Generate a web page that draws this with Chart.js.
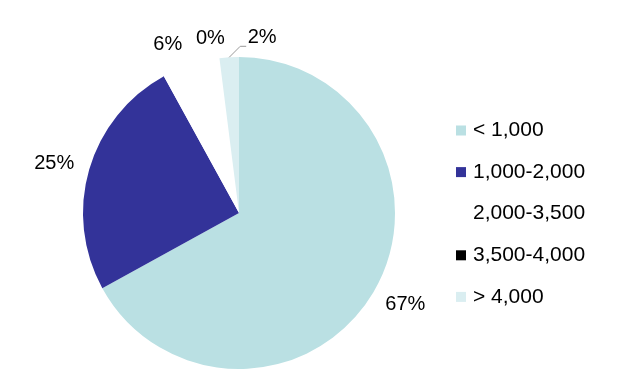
<!DOCTYPE html>
<html>
<head>
<meta charset="utf-8">
<script src="https://cdn.jsdelivr.net/npm/chart.js@4/dist/chart.umd.min.js"></script>
<style>
  html, body { margin: 0; padding: 0; background: #fff; }
  #wrap { width: 635px; height: 373px; }
</style>
</head>
<body>
<div id="wrap"><canvas id="pie" width="635" height="373"></canvas></div>
<script>
// values
const categories = ['< 1,000', '1,000-2,000', '2,000-3,500', '3,500-4,000', '> 4,000'];
const shares = [67, 25, 6, 0, 2];
const sliceColors = ['#bae0e3', '#333399', '#ffffff', '#000000', '#daeef1'];

// nudges for the percent labels, relative to the slice's outer mid point
const labelNudge = [[32, 12], [-35, -6], [-23, -20], [-9, -20], [33, -20]];

const LABEL_FONT = '20px "Liberation Sans", Arial, sans-serif';
const LEGEND_FONT = '21px "Liberation Sans", Arial, sans-serif';

const pctLabels = {
  id: 'pctLabels',
  afterDatasetsDraw(chart) {
    const ctx = chart.ctx;
    const meta = chart.getDatasetMeta(0);
    const total = shares.reduce((a, b) => a + b, 0);
    ctx.save();
    ctx.font = LABEL_FONT;
    ctx.fillStyle = '#000';
    ctx.textAlign = 'center';
    ctx.textBaseline = 'middle';
    meta.data.forEach((arc, i) => {
      const mid = (arc.startAngle + arc.endAngle) / 2;
      const px = arc.x + Math.cos(mid) * arc.outerRadius;
      const py = arc.y + Math.sin(mid) * arc.outerRadius;
      const txt = Math.round(shares[i] / total * 100) + '%';
      ctx.fillText(txt, px + labelNudge[i][0], py + labelNudge[i][1]);
      if (i === 4) {
        // leader line for the small slice
        ctx.strokeStyle = '#999';
        ctx.lineWidth = 1;
        ctx.beginPath();
        ctx.moveTo(px, py);
        ctx.lineTo(px + 11, py - 11);
        ctx.lineTo(px + 17, py - 11);
        ctx.stroke();
      }
    });
    ctx.restore();
  }
};

const sideLegend = {
  id: 'sideLegend',
  afterDraw(chart) {
    const ctx = chart.ctx;
    ctx.save();
    ctx.font = LEGEND_FONT;
    ctx.textBaseline = 'middle';
    ctx.textAlign = 'left';
    categories.forEach((name, i) => {
      const y = 130.5 + i * 41.6;
      ctx.fillStyle = sliceColors[i];
      ctx.fillRect(456, y - 5, 10, 10);
      ctx.fillStyle = '#000';
      ctx.fillText(name, 473, y);
    });
    ctx.restore();
  }
};

new Chart(document.getElementById('pie'), {
  type: 'pie',
  data: {
    labels: categories,
    datasets: [{
      data: shares,
      backgroundColor: sliceColors,
      borderWidth: 0
    }]
  },
  options: {
    responsive: false,
    animation: false,
    layout: { padding: { top: 57, bottom: 4, left: 83, right: 240 } },
    plugins: {
      legend: { display: false },
      tooltip: { enabled: false }
    }
  },
  plugins: [pctLabels, sideLegend]
});
</script>
</body>
</html>
